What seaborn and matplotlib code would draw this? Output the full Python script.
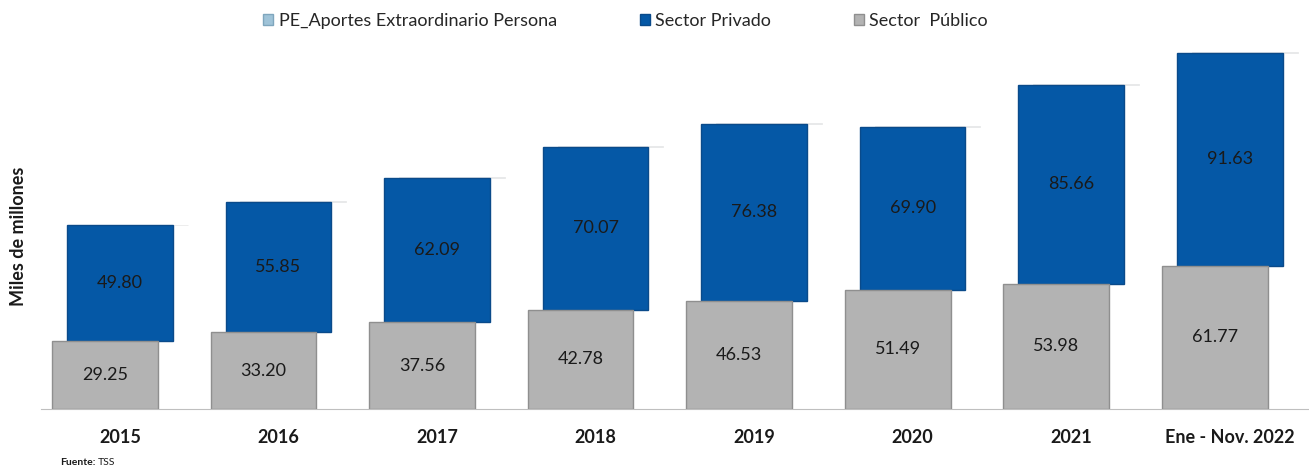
import matplotlib
matplotlib.use("Agg")
import matplotlib.pyplot as plt
import seaborn as sns
import pandas as pd
import numpy as np
from matplotlib.patches import Patch

periodos = ["2015", "2016", "2017", "2018", "2019", "2020", "2021", "Ene - Nov. 2022"]
sector_publico = [29.25, 33.20, 37.56, 42.78, 46.53, 51.49, 53.98, 61.77]
sector_privado = [49.80, 55.85, 62.09, 70.07, 76.38, 69.90, 85.66, 91.63]
pe_aportes = [0.4, 0.4, 0.4, 0.4, 0.4, 0.4, 0.4, 0.4]

df = pd.DataFrame({"periodo": periodos, "publico": sector_publico,
                   "privado": sector_privado, "pe": pe_aportes})
df["total"] = df["publico"] + df["privado"]

sns.set_style("white")
plt.rcParams["font.family"] = ["Lato", "DejaVu Sans"]

AZUL = "#0558a6"
GRIS = "#b3b3b3"
PE_COL = "#dfe5ea"

fig = plt.figure(figsize=(13.09, 4.73), dpi=100)
ax = fig.add_axes([0.031, 0.135, 0.969, 0.835])

w = 0.667
shift = 0.094

# PE (detras), Sector Privado (medio), Sector Publico (delante)
sns.barplot(data=df, x="periodo", y="pe", bottom=df["total"], color=PE_COL,
            width=w, saturation=1, edgecolor="#e6e6e6", linewidth=0.5, ax=ax, zorder=1)
sns.barplot(data=df, x="periodo", y="privado", bottom=df["publico"], color=AZUL,
            width=w, saturation=1, edgecolor="#0a4a8a", linewidth=1, ax=ax, zorder=2)
sns.barplot(data=df, x="periodo", y="publico", color=GRIS,
            width=w, saturation=1, edgecolor="#8f8f8f", linewidth=1, ax=ax, zorder=3)

c_pe, c_priv, c_pub = ax.containers
for p in c_pe:
    p.set_x(p.get_x() + shift)
for p in c_pub:
    p.set_x(p.get_x() - shift)

ax.bar_label(c_priv, labels=[f"{v:.2f}" for v in sector_privado], label_type="center",
             fontsize=13, color="#1a1a1a")
ax.bar_label(c_pub, labels=[f"{v:.2f}" for v in sector_publico], label_type="center",
             fontsize=13, color="#1a1a1a")

ax.set_xlim(-0.5, 7.5)
ax.set_ylim(0, 170)
ax.set_yticks([])
ax.set_xlabel("")
ax.set_ylabel("")
for s in ["top", "right", "left"]:
    ax.spines[s].set_visible(False)
ax.spines["bottom"].set_color("#bfbfbf")
ax.tick_params(axis="x", which="major", length=0, pad=14)
ax.set_xticks(np.arange(-0.5, 8, 1), minor=True)
ax.tick_params(axis="x", which="minor", length=5, color="#bfbfbf", direction="out")
for lbl in ax.get_xticklabels():
    lbl.set_fontweight("bold")
    lbl.set_fontsize(13)
    lbl.set_color("#1a1a1a")

fig.text(0.014, 0.5, "Miles de millones", rotation=90, ha="center", va="center",
         fontsize=13, fontweight="bold", color="#1a1a1a")

handles = [Patch(facecolor="#9fc3d8", edgecolor="#7fa6bd", label="PE_Aportes Extraordinario Persona"),
           Patch(facecolor=AZUL, edgecolor="#0a4a8a", label="Sector Privado"),
           Patch(facecolor=GRIS, edgecolor="#8f8f8f", label="Sector  Público")]
fig.legend(handles=handles, loc="center", bbox_to_anchor=(0.478, 0.955), ncol=3,
           frameon=False, fontsize=13, handlelength=0.55, handleheight=0.55,
           handletextpad=0.3, columnspacing=4.6)

fig.text(0.046, 0.017, "Fuente:", fontsize=7.5, fontweight="bold", color="#1a1a1a")
fig.text(0.0745, 0.017, "TSS", fontsize=7.5, color="#1a1a1a")

fig.savefig("out.png", dpi=100)
